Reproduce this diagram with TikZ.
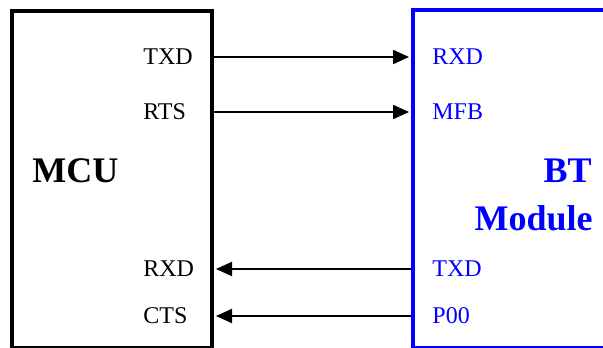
\documentclass[tikz,border=0pt]{standalone}
\usepackage{fontspec}
\setmainfont{Liberation Serif}
\usetikzlibrary{arrows.meta}

\begin{document}
\begin{tikzpicture}[shorten >=1pt,-,x=0.5pt,y=-0.5pt]
		\tikzstyle{mcubox}=[rectangle,draw=black,line width=2pt,minimum width=100pt,minimum height=168pt,inner sep=0pt]
		\tikzstyle{btbox}=[rectangle,draw=blue,line width=2pt,minimum width=108.5pt,minimum height=168.5pt,inner sep=0pt]
		\tikzstyle{pin}=[anchor=west,inner sep=0pt,font=\fontsize{12}{14}\selectfont]
		\tikzstyle{title}=[inner sep=0pt,font=\fontsize{18}{22}\selectfont\bfseries]
		\tikzstyle{edge}=[draw=black,line width=1pt,-{Triangle[length=8pt,width=7pt]}]

		\useasboundingbox (0,0) rectangle (603,347);
		\clip (0,0) rectangle (603,347);

		 \node [mcubox] (mcu) at (112,179.5) {};
		 \node [btbox] (bt) at (521.5,179) {};

		 \node [title,anchor=base west] (mcuname) at (32,182) {MCU};
		 \node [title,anchor=base east,blue] (btname) at (592,182) {BT};
		 \node [title,anchor=base east,blue] (modname) at (593,230) {Module};

		 % MCU side
		 \node [pin] (mtxd) at (143,57) {TXD};
		 \node [pin] (mrts) at (143,112) {RTS};
		 \node [pin] (mrxd) at (143,269) {RXD};
		 \node [pin] (mcts) at (143,316) {CTS};

		 % BT side
		 \node [pin,blue] (brxd) at (432,57) {RXD};
		 \node [pin,blue] (bmfb) at (432,112) {MFB};
		 \node [pin,blue] (btxd) at (432,269) {TXD};
		 \node [pin,blue] (bp00) at (432,316) {P00};

		 \path[edge] (mcu.east |- mtxd) -- (bt.west |- brxd);
		 \path[edge] (mcu.east |- mrts) -- (bt.west |- bmfb);
		 \path[edge] (bt.west |- btxd) -- (mcu.east |- mrxd);
		 \path[edge] (bt.west |- bp00) -- (mcu.east |- mcts);

	\end{tikzpicture}
\end{document}
